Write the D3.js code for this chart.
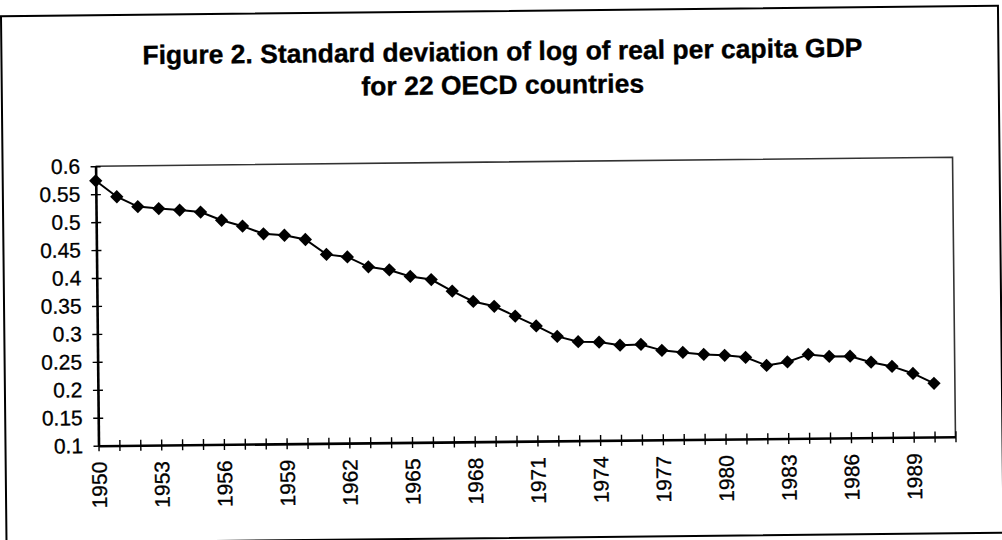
<!DOCTYPE html>
<html>
<head>
<meta charset="utf-8">
<script src="https://cdn.jsdelivr.net/npm/d3@7"></script>
<style>
  html, body { margin: 0; padding: 0; background: #fff; }
  svg { display: block; }
  text { font-family: "Liberation Sans", Arial, sans-serif; fill: #000; }
</style>
</head>
<body>
<svg id="chart" width="1002" height="540"></svg>
<script>
// Standard deviation of log real per-capita GDP, 22 OECD countries
const years = d3.range(1950, 1991);
const sdLogGdp = [
  0.574, 0.545, 0.527, 0.523, 0.520, 0.516, 0.501, 0.490, 0.476, 0.473,
  0.465, 0.438, 0.433, 0.415, 0.409, 0.397, 0.391, 0.370, 0.351, 0.342,
  0.324, 0.306, 0.287, 0.277, 0.276, 0.270, 0.271, 0.260, 0.256, 0.252,
  0.250, 0.246, 0.231, 0.237, 0.250, 0.246, 0.246, 0.235, 0.227, 0.214,
  0.196
];
const yTickValues = [0.1, 0.15, 0.2, 0.25, 0.3, 0.35, 0.4, 0.45, 0.5, 0.55, 0.6];
const xTickYears = d3.range(1950, 1992);
const xLabelYears = [1950, 1953, 1956, 1959, 1962, 1965, 1968, 1971, 1974, 1977, 1980, 1983, 1986, 1989];
const titleLines = [
  "Figure 2. Standard deviation of log of real per capita GDP",
  "for 22 OECD countries"
];

const svg = d3.select("#chart");
// the printed page sits at a slight tilt
const page = svg.append("g").attr("transform", "rotate(-0.6, 500, 300)");

// outer frame
page.append("rect")
  .attr("x", 4).attr("y", 11).attr("width", 997).attr("height", 527)
  .attr("fill", "none").attr("stroke", "#000").attr("stroke-width", 2);

// title
page.append("g").selectAll("text")
  .data(titleLines)
  .join("text")
  .attr("x", 505)
  .attr("y", (d, i) => 60.5 + i * 33.5)
  .attr("text-anchor", "middle")
  .attr("font-size", 26.5)
  .attr("font-weight", "bold")
  .attr("stroke", "#000").attr("stroke-width", 0.35)
  .text(d => d);

const plot = { left: 97, right: 954, top: 162, bottom: 441.5 };

const x = d3.scaleLinear().domain([1950, 1991]).range([plot.left, plot.right]);
const y = d3.scaleLinear().domain([0.1, 0.6]).range([plot.bottom, plot.top]);

// top and right edges of the plot area
page.append("path")
  .attr("d", `M${plot.left},${plot.top}H${plot.right}V${plot.bottom}`)
  .attr("fill", "none").attr("stroke", "#333").attr("stroke-width", 1.6);

// y axis
const yAxis = page.append("g")
  .attr("transform", `translate(${plot.left},0)`)
  .attr("font-size", 21)
  .call(d3.axisLeft(y).tickValues(yTickValues).tickSize(10).tickSizeOuter(0)
    .tickPadding(5.5).tickFormat(d3.format("")));
yAxis.attr("font-size", 21).attr("font-family", null);
yAxis.select(".domain").attr("stroke", "#000").attr("stroke-width", 2.6);
yAxis.selectAll(".tick line").attr("x1", 5).attr("x2", -5).attr("stroke", "#000").attr("stroke-width", 1.4);
yAxis.selectAll(".tick text")
  .attr("stroke", "#000").attr("stroke-width", 0.3);

// x axis
const xAxis = page.append("g")
  .attr("transform", `translate(0,${plot.bottom})`)
  .call(d3.axisBottom(x).tickValues(xTickYears).tickSize(5.5).tickSizeOuter(0)
    .tickFormat(d => xLabelYears.includes(d) ? String(d) : ""));
xAxis.attr("font-size", 21).attr("font-family", null);
xAxis.select(".domain").attr("stroke", "#000").attr("stroke-width", 2.6);
xAxis.selectAll(".tick line").attr("y1", -5.5).attr("y2", 5.5).attr("stroke", "#000").attr("stroke-width", 1.4);
xAxis.selectAll(".tick text")
  .attr("stroke", "#000").attr("stroke-width", 0.3)
  .attr("transform", "rotate(-90)")
  .attr("x", -16).attr("y", 0).attr("dy", "0.35em")
  .attr("text-anchor", "end");

// series line
page.append("path")
  .datum(years.map((yr, i) => [yr, sdLogGdp[i]]))
  .attr("fill", "none").attr("stroke", "#000").attr("stroke-width", 2)
  .attr("d", d3.line().x(d => x(d[0])).y(d => y(d[1])));

// diamond markers
const diamond = d3.symbol().type(d3.symbolSquare).size(88);
page.append("g").selectAll("path")
  .data(years.map((yr, i) => [yr, sdLogGdp[i]]))
  .join("path")
  .attr("transform", d => `translate(${x(d[0])},${y(d[1])}) rotate(45)`)
  .attr("d", diamond)
  .attr("fill", "#000");
</script>
</body>
</html>
